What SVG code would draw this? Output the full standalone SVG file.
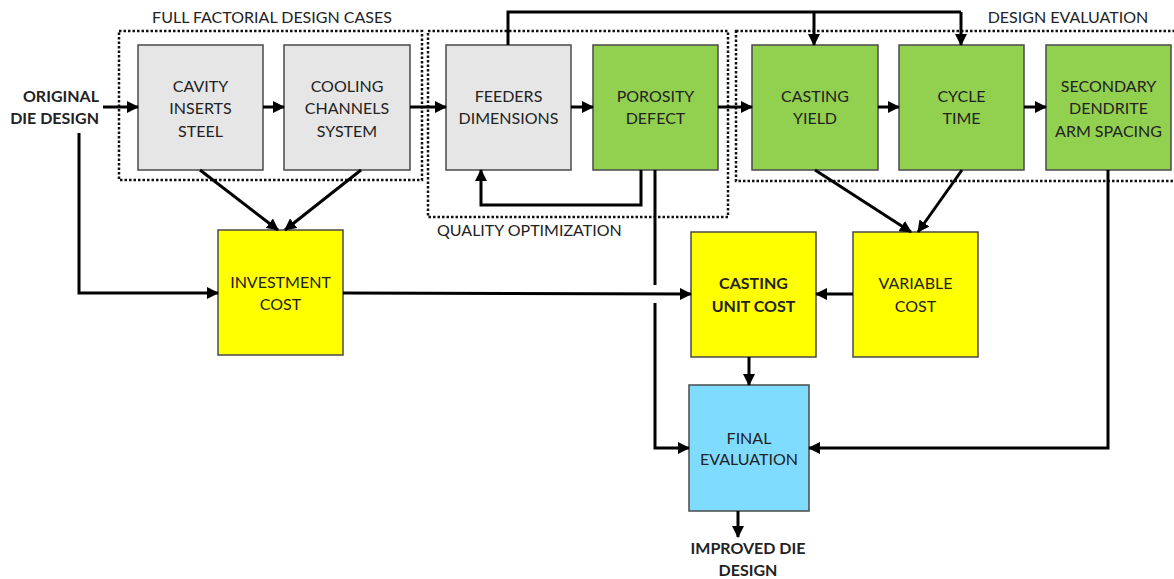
<svg xmlns="http://www.w3.org/2000/svg" width="1174" height="579" viewBox="0 0 1174 579">
<style>
.box{stroke:#4a4a4a;stroke-width:1.5}
.gray{fill:#e6e6e6}
.green{fill:#92d050}
.yellow{fill:#ffff00}
.blue{fill:#80dcff}
.t{font-family:Lato,"Liberation Sans",sans-serif;font-size:16px;fill:#222;text-anchor:middle}
.b{font-weight:bold}
.title{font-family:Lato,"Liberation Sans",sans-serif;font-size:16px;fill:#222}
.dot{fill:none;stroke:#111;stroke-width:2.5;stroke-dasharray:2.5 2}
.c{fill:none;stroke:#000;stroke-width:3;marker-end:url(#ah)}
.n{fill:none;stroke:#000;stroke-width:3}
</style>
<defs>
<marker id="ah" markerUnits="userSpaceOnUse" markerWidth="12" markerHeight="12" refX="11" refY="6" orient="auto">
<path d="M0,0 L12,6 L0,12 Z" fill="#000"/>
</marker>
</defs>
<rect width="1174" height="579" fill="#fff"/>

<g id="groups">
<rect class="dot" x="119" y="31" width="303" height="149"/>
<text class="title" x="272" y="23" text-anchor="middle">FULL FACTORIAL DESIGN CASES</text>
<rect class="dot" x="428" y="31" width="300" height="186"/>
<text class="title" x="437" y="236">QUALITY OPTIMIZATION</text>
<rect class="dot" x="736" y="31" width="445" height="150"/>
<text class="title" x="1068" y="23" text-anchor="middle">DESIGN EVALUATION</text>
</g>

<g id="original">
<text class="t b" x="99" y="102" text-anchor="end" style="text-anchor:end">ORIGINAL</text>
<text class="t b" x="99" y="124" style="text-anchor:end">DIE DESIGN</text>
</g>

<g id="cavity">
<rect class="box gray" x="138" y="45" width="125" height="125"/>
<text class="t" x="200.5" y="92">CAVITY</text>
<text class="t" x="200.5" y="114">INSERTS</text>
<text class="t" x="200.5" y="137">STEEL</text>
</g>
<g id="cooling">
<rect class="box gray" x="284" y="45" width="126" height="125"/>
<text class="t" x="347" y="92">COOLING</text>
<text class="t" x="347" y="114">CHANNELS</text>
<text class="t" x="347" y="137">SYSTEM</text>
</g>
<g id="feeders">
<rect class="box gray" x="446" y="45" width="125" height="125"/>
<text class="t" x="508.5" y="102">FEEDERS</text>
<text class="t" x="508.5" y="124">DIMENSIONS</text>
</g>
<g id="porosity">
<rect class="box green" x="593" y="45" width="125" height="125"/>
<text class="t" x="655.5" y="102">POROSITY</text>
<text class="t" x="655.5" y="124">DEFECT</text>
</g>
<g id="yield">
<rect class="box green" x="752" y="45" width="126" height="125"/>
<text class="t" x="815" y="102">CASTING</text>
<text class="t" x="815" y="124">YIELD</text>
</g>
<g id="cycle">
<rect class="box green" x="899" y="45" width="125" height="125"/>
<text class="t" x="961.5" y="102">CYCLE</text>
<text class="t" x="961.5" y="124">TIME</text>
</g>
<g id="sdas">
<rect class="box green" x="1046" y="45" width="125" height="125"/>
<text class="t" x="1108.5" y="92">SECONDARY</text>
<text class="t" x="1108.5" y="114">DENDRITE</text>
<text class="t" x="1108.5" y="137">ARM SPACING</text>
</g>
<g id="investment">
<rect class="box yellow" x="218" y="230" width="125" height="125"/>
<text class="t" x="280.5" y="288">INVESTMENT</text>
<text class="t" x="280.5" y="310">COST</text>
</g>
<g id="unitcost">
<rect class="box yellow" x="691" y="232" width="125" height="125"/>
<text class="t b" x="753.5" y="289">CASTING</text>
<text class="t b" x="753.5" y="312">UNIT COST</text>
</g>
<g id="variable">
<rect class="box yellow" x="853" y="232" width="125" height="125"/>
<text class="t" x="915.5" y="289">VARIABLE</text>
<text class="t" x="915.5" y="312">COST</text>
</g>
<g id="final">
<rect class="box blue" x="689" y="385" width="120" height="126"/>
<text class="t" x="749" y="444">FINAL</text>
<text class="t" x="749" y="465">EVALUATION</text>
</g>
<g id="improved">
<text class="t b" x="748" y="554">IMPROVED DIE</text>
<text class="t b" x="748" y="576">DESIGN</text>
</g>

<g id="connectors">
<line class="c" x1="103" y1="107" x2="138" y2="107"/>
<line class="c" x1="263" y1="107" x2="284" y2="107"/>
<line class="c" x1="410" y1="107" x2="446" y2="107"/>
<line class="c" x1="571" y1="107" x2="593" y2="107"/>
<line class="c" x1="718" y1="107" x2="752" y2="107"/>
<line class="c" x1="878" y1="107" x2="899" y2="107"/>
<line class="c" x1="1024" y1="107" x2="1046" y2="107"/>
<polyline class="n" points="508,45 508,12 961,12"/>
<line class="c" x1="814" y1="12" x2="814" y2="45"/>
<line class="c" x1="961" y1="12" x2="961" y2="45"/>
<polyline class="c" points="641,170 641,205 481,205 481,170"/>
<polyline class="c" points="79,133 79,293 218,293"/>
<line class="c" x1="200" y1="170" x2="278" y2="230"/>
<line class="c" x1="361" y1="170" x2="285" y2="230"/>
<line class="c" x1="343" y1="293" x2="691" y2="294"/>
<line class="c" x1="853" y1="294" x2="816" y2="294"/>
<line class="c" x1="815" y1="170" x2="911" y2="232"/>
<line class="c" x1="962" y1="170" x2="918" y2="232"/>
<line class="n" x1="655" y1="170" x2="655" y2="285"/>
<polyline class="c" points="655,303 655,448 689,448"/>
<polyline class="c" points="1108,170 1108,448 809,448"/>
<line class="c" x1="749" y1="357" x2="749" y2="385"/>
<line class="c" x1="738" y1="511" x2="738" y2="537"/>
</g>
</svg>
